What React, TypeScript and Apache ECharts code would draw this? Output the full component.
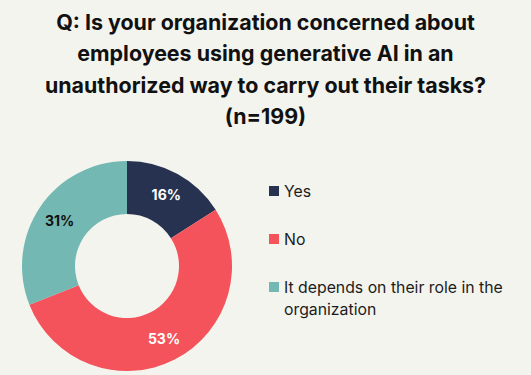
import React, { useEffect, useRef } from "react";
import * as echarts from "echarts";

const titleLines = [
  "Q: Is your organization concerned about",
  "employees using generative AI in an",
  "unauthorized way to carry out their tasks?",
  "(n=199)",
];
const categories = ["Yes", "No", "It depends on their role in the organization"];
const legendTexts = ["Yes", "No", "\nIt depends on their role in the\norganization"];
const values = [16, 53, 31];
const colors = ["#263250", "#f4535b", "#73b8b2"];
const labelColors = ["#ffffff", "#ffffff", "#111111"];

const FONT = "Inter, 'Noto Sans', sans-serif";

export default function App() {
  const ref = useRef<HTMLDivElement>(null);
  useEffect(() => {
    document.body.style.margin = "0";
    const chart = echarts.init(ref.current!, null, { renderer: "svg" });
    const legendTops = [180, 228, 254];
    const legends = categories.map((c, i) => ({
      orient: "vertical",
      left: 269,
      top: legendTops[i],
      padding: 0,
      itemWidth: 10,
      itemHeight: 10,
      itemGap: 0,
      icon: "rect",
      selectedMode: false,
      data: [c],
      formatter: () => legendTexts[i],
      textStyle: {
        fontFamily: FONT,
        fontSize: 15.8,
        color: "#1c1c1c",
        lineHeight: 22,
      },
    }));
    chart.setOption({
      animation: false,
      backgroundColor: "#f4f4ef",
      title: {
        text: titleLines.join("\n"),
        left: "center",
        top: 1,
        textStyle: {
          fontFamily: FONT,
          fontWeight: "bold",
          fontSize: 21.4,
          lineHeight: 31.5,
          color: "#111111",
        },
      },
      legend: legends,
      series: [
        {
          type: "pie",
          center: [127, 266],
          radius: [52, 105],
          startAngle: 90,
          clockwise: true,
          emphasis: { disabled: true },
          labelLine: { show: false },
          label: {
            show: true,
            position: "inside",
            formatter: "{c}%",
            fontFamily: FONT,
            fontWeight: "bold",
            fontSize: 14,
          },
          data: categories.map((c, i) => ({
            name: c,
            value: values[i],
            itemStyle: { color: colors[i] },
            label: { color: labelColors[i] },
          })),
        },
      ],
    });
    return () => chart.dispose();
  }, []);
  return <div ref={ref} style={{ width: 531, height: 375 }} />;
}
